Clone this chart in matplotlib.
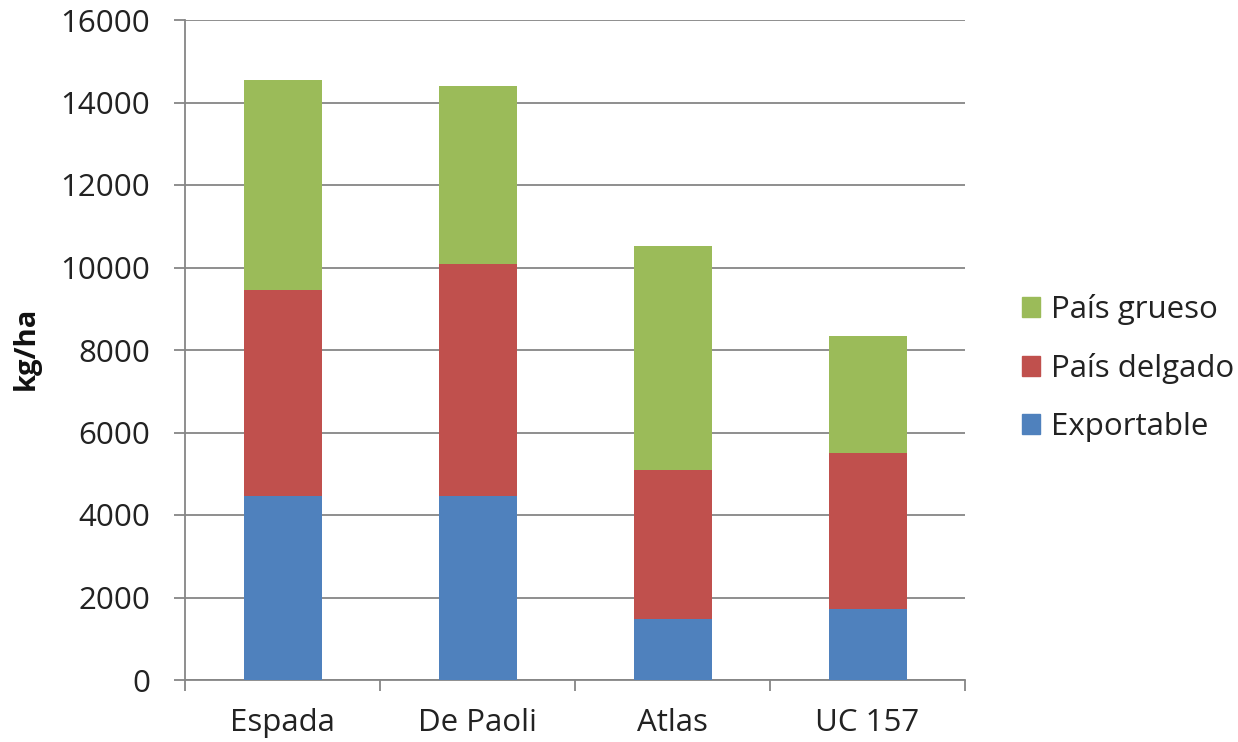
import numpy as np
import matplotlib
matplotlib.use("Agg")
import matplotlib.pyplot as plt
from matplotlib.patches import Patch

plt.rcParams['font.family'] = ['Open Sans', 'DejaVu Sans']

# data (kg/ha)
variedades = ['Espada', 'De Paoli', 'Atlas', 'UC 157']
exportable = [4460, 4460, 1470, 1720]
pais_delgado = [5000, 5620, 3610, 3790]
pais_grueso = [5080, 4310, 5430, 2830]
yticks = [0, 2000, 4000, 6000, 8000, 10000, 12000, 14000, 16000]

c_blue = '#4F81BD'
c_red = '#C0504D'
c_green = '#9BBB59'
c_grid = '#868686'
c_text = '#222222'
fs = 22.5

fig = plt.figure(figsize=(12.38, 7.42), dpi=100)
ax = fig.add_axes([185/1238, 62/742, 780/1238, 660/742])

x = np.arange(len(variedades))
w = 0.4
bot2 = np.array(exportable)
bot3 = bot2 + np.array(pais_delgado)
ax.bar(x, exportable, w, color=c_blue, zorder=3)
ax.bar(x, pais_delgado, w, bottom=bot2, color=c_red, zorder=3)
ax.bar(x, pais_grueso, w, bottom=bot3, color=c_green, zorder=3)

ax.set_xlim(-0.5, len(variedades) - 0.5)
ax.set_ylim(0, 16000)
ax.set_yticks(yticks)
ax.set_yticklabels([str(v) for v in yticks])
ax.yaxis.grid(True, color=c_grid, linewidth=1.3, zorder=0)

# category boundary ticks (major) and centered labels (minor)
ax.set_xticks(np.arange(len(variedades) + 1) - 0.5)
ax.set_xticklabels([])
ax.set_xticks(x, minor=True)
ax.set_xticklabels(variedades, minor=True)
ax.tick_params(axis='x', which='major', length=8, color=c_grid, width=1.3)
ax.tick_params(axis='x', which='minor', length=0, pad=20, labelsize=fs, labelcolor=c_text)
ax.tick_params(axis='y', length=8, color=c_grid, width=1.3, pad=17, labelsize=fs, labelcolor=c_text)

for s in ['top', 'right']:
    ax.spines[s].set_visible(False)
for s in ['left', 'bottom']:
    ax.spines[s].set_color(c_grid)
    ax.spines[s].set_linewidth(1.3)

fig.text(26/1238, 1 - 348/742, 'kg/ha', rotation=90, ha='center', va='center',
         fontsize=21, fontweight='bold', color='#111111')

handles = [Patch(color=c_green, label='País grueso'),
           Patch(color=c_red, label='País delgado'),
           Patch(color=c_blue, label='Exportable')]
fig.legend(handles=handles, loc='center left', bbox_to_anchor=(1022/1238, 1 - 368/742),
           frameon=False, fontsize=fs, handlelength=0.58, handleheight=0.58,
           handletextpad=0.35, labelspacing=0.89, borderpad=0, borderaxespad=0,
           labelcolor=c_text)

fig.savefig('out.png', dpi=100)
